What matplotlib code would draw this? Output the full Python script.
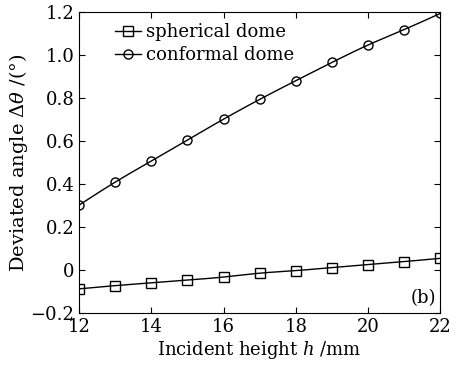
import matplotlib
matplotlib.use("Agg")
import matplotlib.pyplot as plt
import numpy as np

plt.rcParams['font.family'] = 'DejaVu Serif'
plt.rcParams['mathtext.fontset'] = 'dejavuserif'

# incident height h (mm) and deviated angle (deg)
h = [12, 13, 14, 15, 16, 17, 18, 19, 20, 21, 22]
spherical = [-0.088, -0.073, -0.060, -0.047, -0.033, -0.015, -0.003, 0.011, 0.025, 0.039, 0.054]
conformal = [0.302, 0.409, 0.507, 0.605, 0.702, 0.794, 0.881, 0.966, 1.047, 1.119, 1.194]


def spline(x, y, n=20):
    # natural cubic spline through the measured points, for a smooth line
    x = np.asarray(x, float)
    y = np.asarray(y, float)
    m = len(x)
    dx = np.diff(x)
    A = np.zeros((m, m))
    b = np.zeros(m)
    A[0, 0] = A[-1, -1] = 1
    for i in range(1, m - 1):
        A[i, i - 1] = dx[i - 1]
        A[i, i] = 2 * (dx[i - 1] + dx[i])
        A[i, i + 1] = dx[i]
        b[i] = 6 * ((y[i + 1] - y[i]) / dx[i] - (y[i] - y[i - 1]) / dx[i - 1])
    M = np.linalg.solve(A, b)
    xs, ys = [], []
    for i in range(m - 1):
        t = np.linspace(x[i], x[i + 1], n, endpoint=False)
        a = x[i + 1] - t
        c = t - x[i]
        s = (M[i] * a**3 + M[i + 1] * c**3) / (6 * dx[i]) \
            + (y[i] / dx[i] - M[i] * dx[i] / 6) * a \
            + (y[i + 1] / dx[i] - M[i + 1] * dx[i] / 6) * c
        xs.extend(t)
        ys.extend(s)
    xs.append(x[-1])
    ys.append(y[-1])
    return xs, ys


fig = plt.figure(figsize=[4.6, 3.69], dpi=100)
ax = fig.add_axes([0.172, 0.152, 0.785, 0.815])

for data, mk, name in [(spherical, 's', 'spherical dome'), (conformal, 'o', 'conformal dome')]:
    sx, sy = spline(h, data)
    ax.plot(sx, sy, color='black', lw=1.0)
    ax.plot(h, data, linestyle='none', marker=mk, markersize=6.5, mfc='none', mec='black', mew=1.0)
    ax.plot([], [], color='black', lw=1.0, marker=mk, markersize=6.5, mfc='none', mec='black', label=name)

ax.set_xlim(12, 22)
ax.set_ylim(-0.2, 1.2)
ax.set_xticks([12, 14, 16, 18, 20, 22])
ax.set_yticks([-0.2, 0, 0.2, 0.4, 0.6, 0.8, 1.0, 1.2])
ax.set_yticklabels(['\u22120.2', '0', '0.2', '0.4', '0.6', '0.8', '1.0', '1.2'])
ax.tick_params(direction='in', top=True, right=True, length=4, labelsize=13)

ax.set_xlabel(r'Incident height $h$ /mm', fontsize=13, labelpad=2)
ax.set_ylabel(r'Deviated angle $\Delta\theta$ /(°)', fontsize=14, labelpad=0)

ax.legend(loc='upper left', frameon=False, fontsize=13, handlelength=1.4,
          handletextpad=0.3, labelspacing=0.3, borderaxespad=0.2, bbox_to_anchor=(0.07, 1.0))
ax.text(0.99, 0.02, '(b)', transform=ax.transAxes, ha='right', va='bottom', fontsize=13)

fig.savefig('out.png', dpi=100)
